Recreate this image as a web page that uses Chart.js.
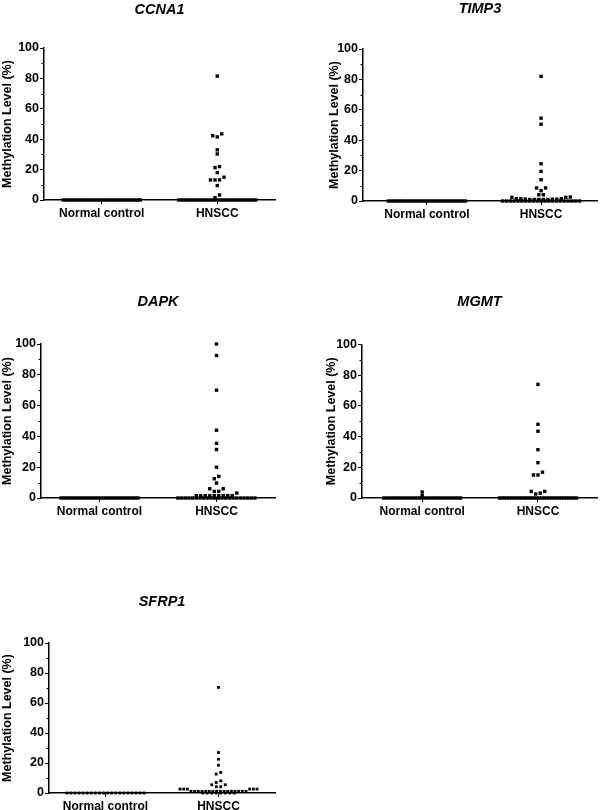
<!DOCTYPE html>
<html>
<head>
<meta charset="utf-8">
<title>Methylation levels</title>
<script src="https://cdn.jsdelivr.net/npm/chart.js@4.4.0/dist/chart.umd.min.js"></script>
<style>
  body { margin: 0; background: #fff; }
  #page { position: relative; width: 600px; height: 810px; overflow: hidden; }
  canvas { position: absolute; }
</style>
</head>
<body>
<div id="page">
  <canvas id="cCCNA1"></canvas>
  <canvas id="cTIMP3"></canvas>
  <canvas id="cDAPK"></canvas>
  <canvas id="cMGMT"></canvas>
  <canvas id="cSFRP1"></canvas>
</div>
<script>
// categorías y ticks
const groups = ['Normal control', 'HNSCC'];
const yTicks = [0, 20, 40, 60, 80, 100];
const minorYTicks = [10, 30, 50, 70, 90];

// valores (% metilación)
const ccna1Normal = [0, 0, 0, 0, 0, 0, 0, 0, 0, 0, 0, 0, 0, 0, 0, 0, 0, 0, 0, 0, 0, 0, 0, 0, 0, 0, 0, 0, 0, 0];
const ccna1Hnscc = [81.5, 43.5, 42.3, 41.5, 33, 30.3, 22, 21.3, 18, 15, 13.2, 13.2, 13.2, 9.5, 3.3, 1.5,
  0, 0, 0, 0, 0, 0, 0, 0, 0, 0, 0, 0, 0, 0, 0, 0, 0, 0, 0, 0, 0, 0, 0, 0, 0, 0, 0, 0, 0, 0];

const timp3Normal = [0, 0, 0, 0, 0, 0, 0, 0, 0, 0, 0, 0, 0, 0, 0, 0, 0, 0, 0, 0, 0, 0, 0, 0, 0, 0, 0, 0, 0, 0];
const timp3Hnscc = [82, 54.5, 50.5, 24.5, 19.5, 14, 8.6, 8.6, 6.8, 4.1, 4.1, 2.6, 2.4, 2.4,
  1.5, 1.5, 1.5, 1.2, 1.2, 1.2, 1, 1, 1, 1, 1,
  0, 0, 0, 0, 0, 0, 0, 0, 0, 0, 0, 0, 0, 0, 0, 0, 0, 0, 0, 0, 0];

const dapkNormal = [0, 0, 0, 0, 0, 0, 0, 0, 0, 0, 0, 0, 0, 0, 0, 0, 0, 0, 0, 0, 0, 0, 0, 0, 0, 0, 0, 0, 0, 0];
const dapkHnscc = [100, 92.5, 70, 44, 35.5, 31.5, 20, 14, 12.5, 9.7, 6, 6, 4.3, 4.3, 3.2,
  1.5, 1.5, 1.5, 1.5, 1.5, 1.5, 1.5, 1.5, 1.5,
  0, 0, 0, 0, 0, 0, 0, 0, 0, 0, 0, 0, 0, 0, 0, 0, 0, 0, 0, 0, 0, 0];

const mgmtNormal = [3.9, 1.5, 0, 0, 0, 0, 0, 0, 0, 0, 0, 0, 0, 0, 0, 0, 0, 0, 0, 0, 0, 0, 0, 0, 0, 0, 0, 0, 0, 0];
const mgmtHnscc = [74, 48, 43.5, 31.5, 23, 16.8, 15, 15, 4.3, 4.3, 3.2, 2.6,
  0, 0, 0, 0, 0, 0, 0, 0, 0, 0, 0, 0, 0, 0, 0, 0, 0, 0, 0, 0, 0, 0, 0, 0, 0, 0, 0, 0, 0, 0, 0, 0];

const sfrp1Normal = [0, 0, 0, 0, 0, 0, 0, 0, 0, 0, 0, 0, 0, 0, 0, 0, 0, 0, 0, 0];
const sfrp1Hnscc = [70.4, 27, 22.5, 18.5, 13.7, 12.6, 8.1, 7, 5.5, 5.5, 4.2, 4.2,
  2.6, 2.6, 2.6, 2.6, 2.6, 2.6,
  1.1, 1.1, 1.1, 1.1, 1.1, 1.1, 1.1, 1.1, 1.1, 1.1, 1.1, 1.1, 1.1, 1.1, 1.1, 1.1,
  0, 0, 0, 0, 0, 0, 0, 0];

const FONT = '"Liberation Sans", Arial, sans-serif';

// posición de cada panel en la página
const panels = [
  { id: 'cCCNA1', gene: 'CCNA1', normal: ccna1Normal, hnscc: ccna1Hnscc,
    left: 0, top: 1, plotLeft: 44, plotRight: 275, plotTop: 48, plotBottom: 200, xMin: 0.5, xMax: 2.5, r: 2.4 },
  { id: 'cTIMP3', gene: 'TIMP3', normal: timp3Normal, hnscc: timp3Hnscc,
    left: 327, top: 0, plotLeft: 363, plotRight: 597, plotTop: 49, plotBottom: 200.5, xMin: 0.44, xMax: 2.49, r: 2.4 },
  { id: 'cDAPK', gene: 'DAPK', normal: dapkNormal, hnscc: dapkHnscc,
    left: 0, top: 293, plotLeft: 41, plotRight: 275, plotTop: 344, plotBottom: 498, xMin: 0.5, xMax: 2.5, r: 2.4 },
  { id: 'cMGMT', gene: 'MGMT', normal: mgmtNormal, hnscc: mgmtHnscc,
    left: 324, top: 293, plotLeft: 362, plotRight: 597, plotTop: 344.5, plotBottom: 498, xMin: 0.48, xMax: 2.51, r: 2.4 },
  { id: 'cSFRP1', gene: 'SFRP1', normal: sfrp1Normal, hnscc: sfrp1Hnscc,
    left: 0, top: 593, plotLeft: 49, plotRight: 275, plotTop: 643, plotBottom: 793, xMin: 0.5, xMax: 2.5, r: 2.0 }
];

// Reparte los puntos en filas horizontales (como un dot plot de GraphPad)
function dotPositions(values, center, unitsPerPx) {
  const sorted = values.slice().sort((a, b) => a - b);
  const rows = [];
  sorted.forEach(v => {
    const row = rows[rows.length - 1];
    const sameRow = row && v - row[0] < 2.2 && !(row[0] === 0 && v > 0);
    if (sameRow) row.push(v); else rows.push([v]);
  });
  const pts = [];
  rows.forEach(row => {
    const n = row.length;
    const step = n > 1 ? Math.min(4.5, 77 / (n - 1)) : 0;
    row.forEach((v, i) => {
      let k;
      if (n % 2) k = i === 0 ? 0 : Math.ceil(i / 2) * (i % 2 ? -1 : 1);
      else k = (Math.floor(i / 2) + 0.5) * (i % 2 ? 1 : -1);
      pts.push({ x: center + k * step * unitsPerPx, y: v });
    });
  });
  return pts;
}

// marcas menores del eje Y
const minorTicks = {
  id: 'minorTicks',
  afterDraw(chart) {
    const ys = chart.scales.y, ctx = chart.ctx, x0 = chart.chartArea.left;
    ctx.save();
    ctx.strokeStyle = '#000';
    ctx.lineWidth = 1;
    minorYTicks.forEach(v => {
      const py = Math.round(ys.getPixelForValue(v)) + 0.5;
      ctx.beginPath();
      ctx.moveTo(x0 - 2.5, py);
      ctx.lineTo(x0, py);
      ctx.stroke();
    });
    ctx.restore();
  }
};

panels.forEach(p => {
  const canvas = document.getElementById(p.id);
  const w = Math.round(p.plotRight + 5 - p.left);
  const h = Math.round(p.plotBottom + 25 - p.top);
  canvas.width = w;
  canvas.height = h;
  canvas.style.left = p.left + 'px';
  canvas.style.top = p.top + 'px';

  const unitsPerPx = (p.xMax - p.xMin) / (p.plotRight - p.plotLeft);
  const pts = dotPositions(p.normal, 1, unitsPerPx).concat(dotPositions(p.hnscc, 2, unitsPerPx));
  const titleGap = p.plotTop - p.top - 14.5 * 1.2;

  new Chart(canvas, {
    type: 'scatter',
    data: {
      datasets: [{
        data: pts,
        pointStyle: 'rect',
        pointRadius: p.r,
        pointHoverRadius: p.r,
        backgroundColor: '#000',
        borderWidth: 0,
        clip: false
      }]
    },
    options: {
      responsive: false,
      animation: false,
      events: [],
      layout: { padding: { left: 0, right: 5, top: 0, bottom: 0 } },
      plugins: {
        legend: { display: false },
        tooltip: { enabled: false },
        title: {
          display: true,
          text: p.gene,
          fullSize: false,
          color: '#000',
          font: { family: FONT, size: 14.5, weight: 'bold', style: 'italic' },
          padding: { top: 0, bottom: titleGap }
        }
      },
      scales: {
        x: {
          type: 'linear',
          min: p.xMin,
          max: p.xMax,
          afterBuildTicks: ax => { ax.ticks = groups.map((g, i) => ({ value: i + 1 })); },
          afterFit: ax => { ax.height = 25; },
          grid: { display: true, drawOnChartArea: false, tickLength: 4, tickColor: '#000', tickWidth: 1 },
          border: { display: true, color: '#000', width: 1.5 },
          ticks: {
            autoSkip: false, maxRotation: 0, padding: 2, color: '#000',
            font: { family: FONT, size: 12, weight: 'bold' },
            callback: v => groups[v - 1]
          }
        },
        y: {
          min: 0,
          max: 100,
          afterBuildTicks: ax => { ax.ticks = yTicks.map(v => ({ value: v })); },
          afterFit: ax => { ax.width = p.plotLeft - p.left; },
          grid: { display: true, drawOnChartArea: false, tickLength: 4, tickColor: '#000', tickWidth: 1 },
          border: { display: true, color: '#000', width: 1.5 },
          ticks: { padding: 1, color: '#000', font: { family: FONT, size: 12.5, weight: 'bold' } },
          title: {
            display: true,
            text: 'Methylation Level (%)',
            color: '#000',
            font: { family: FONT, size: 12.5, weight: 'bold' },
            padding: { top: 0, bottom: 0 }
          }
        }
      }
    },
    plugins: [minorTicks]
  });
});
</script>
</body>
</html>
